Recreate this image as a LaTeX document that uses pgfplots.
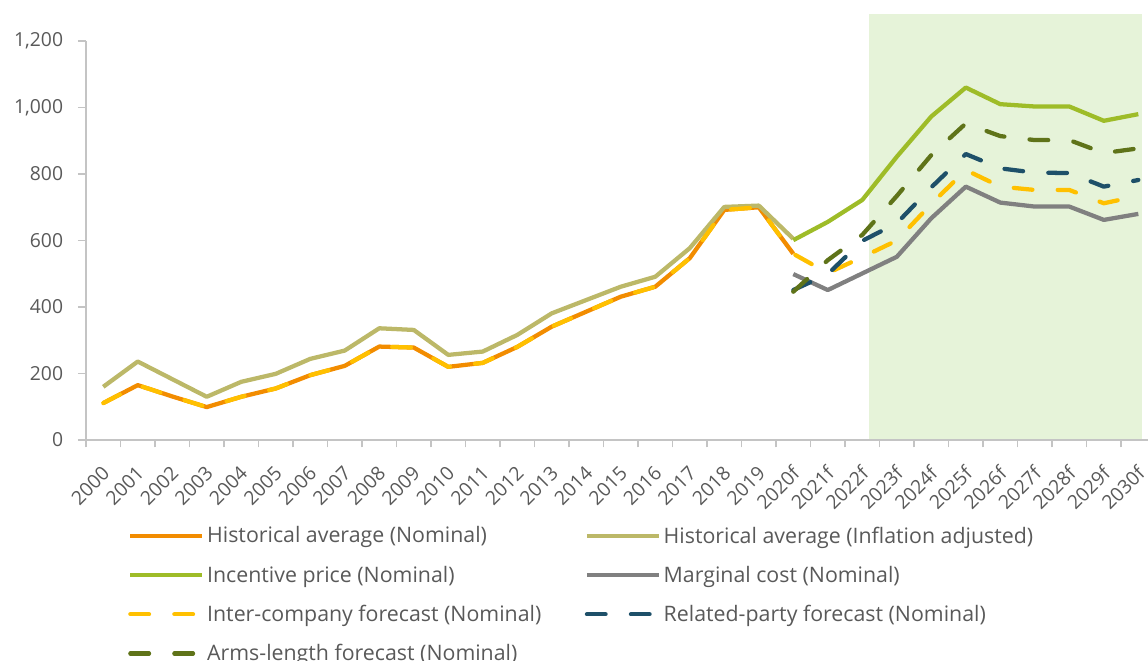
\documentclass[border=0pt]{standalone}
\usepackage{pgfplots}
\pgfplotsset{compat=1.18}
\usepackage{fontspec}
\setmainfont{Open Sans}
\definecolor{cOrange}{RGB}{242,140,0}
\definecolor{cKhaki}{RGB}{188,184,104}
\definecolor{cIncent}{RGB}{158,188,40}
\definecolor{cMarg}{RGB}{128,128,128}
\definecolor{cYellow}{RGB}{255,192,0}
\definecolor{cRelated}{RGB}{30,80,105}
\definecolor{cArms}{RGB}{95,115,25}
\definecolor{cShade}{RGB}{230,243,217}
\definecolor{cText}{RGB}{89,89,89}
\definecolor{cAxis}{RGB}{196,196,196}
\begin{document}
\begin{tikzpicture}
\useasboundingbox (-64.5pt,-165pt) rectangle (796.5pt,330pt);
\begin{axis}[
  at={(0,0)}, anchor=south west,
  scale only axis, width=797pt, height=299.25pt,
  xmin=-0.5, xmax=30.3, ymin=0, ymax=1200,
  clip=false, axis on top,
  axis x line*=bottom, axis y line*=left,
  axis line style={cAxis, line width=1.3pt},
  xtick={0,...,30},
  xticklabels={2000,2001,2002,2003,2004,2005,2006,2007,2008,2009,2010,2011,2012,2013,2014,2015,2016,2017,2018,2019,2020f,2021f,2022f,2023f,2024f,2025f,2026f,2027f,2028f,2029f,2030f},
  minor xtick={-0.5,0.5,...,30.5},
  major x tick style={draw=none},
  minor x tick style={cAxis, line width=1.3pt},
  minor tick length=5.5pt,
  ytick={0,200,...,1200},
  y tick style={cAxis, line width=1.3pt},
  major tick length=6pt,
  tick align=outside,
  tick label style={font=\fontsize{14.5pt}{17pt}\selectfont, text=cText},
  xticklabel style={rotate=45, anchor=east, inner sep=1pt, xshift=-9pt, yshift=-13pt},
  yticklabel style={inner sep=2pt, xshift=-9pt},
  /pgf/number format/assume math mode=true,
  /pgf/number format/.cd, 1000 sep={,},
  /pgfplots/.cd,
  legend style={at={(0.0395,-0.21)}, anchor=north west, draw=none, fill=none, inner sep=0pt,
    font=\fontsize{16pt}{19pt}\selectfont, text=cText, legend columns=2,
    /tikz/every even column/.append style={column sep=30.6pt}, row sep=11.7pt},
  legend cell align=left,
  legend image code/.code={\draw[#1] (0pt,0pt) -- (54pt,0pt);},
  every axis plot/.append style={line width=3.2pt, line join=round},
]
\addplot[fill=cShade, draw=none, forget plot] coordinates {(22.2,0) (22.2,1281) (30.1,1281) (30.1,0)} -- cycle;

\addplot[cOrange] coordinates {
(0,111)(1,165)(2,131)(3,99)(4,130)(5,155)(6,195)(7,223)(8,281)(9,278)(10,220)
(11,232)(12,280)(13,341)(14,386)(15,431)(16,461)(17,547)(18,692)(19,700)(20,560)};
\addlegendentry{Historical average (Nominal)}

\addplot[cKhaki] coordinates {
(0,160)(1,236)(2,183)(3,130)(4,175)(5,199)(6,244)(7,269)(8,336)(9,331)(10,256)
(11,266)(12,316)(13,381)(14,421)(15,461)(16,491)(17,577)(18,701)(19,705)(20,605)};
\addlegendentry{Historical average (Inflation adjusted)}

\addplot[cIncent] coordinates {
(20,601)(21,656)(22,722)(23,852)(24,973)(25,1060)(26,1010)(27,1003)(28,1003)(29,960)(30,980)};
\addlegendentry{Incentive price (Nominal)}

\addplot[cMarg] coordinates {
(20,499)(21,451)(22,501)(23,551)(24,667)(25,762)(26,714)(27,702)(28,702)(29,662)(30,680)};
\addlegendentry{Marginal cost (Nominal)}

\addplot[cYellow, line cap=round, dash pattern=on 14pt off 19pt] coordinates {
(0,111)(1,165)(2,131)(3,99)(4,130)(5,155)(6,195)(7,223)(8,281)(9,278)(10,220)
(11,232)(12,280)(13,341)(14,386)(15,431)(16,461)(17,547)(18,692)(19,700)(20,560)
(21,502)(22,550)(23,600)(24,710)(25,812)(26,762)(27,752)(28,752)(29,712)(30,734)};
\addlegendentry{Inter-company forecast (Nominal)}

\addplot[cRelated, line cap=round, dash pattern=on 14pt off 19pt] coordinates {
(20,451)(21,499)(22,599)(23,652)(24,760)(25,860)(26,817)(27,804)(28,803)(29,762)(30,782)};
\addlegendentry{Related-party forecast (Nominal)}

\addplot[cArms, line cap=round, dash pattern=on 14pt off 19pt] coordinates {
(20,446)(21,541)(22,617)(23,734)(24,857)(25,952)(26,914)(27,902)(28,902)(29,863)(30,877)};
\addlegendentry{Arms-length forecast (Nominal)}
\end{axis}
\end{tikzpicture}
\end{document}
